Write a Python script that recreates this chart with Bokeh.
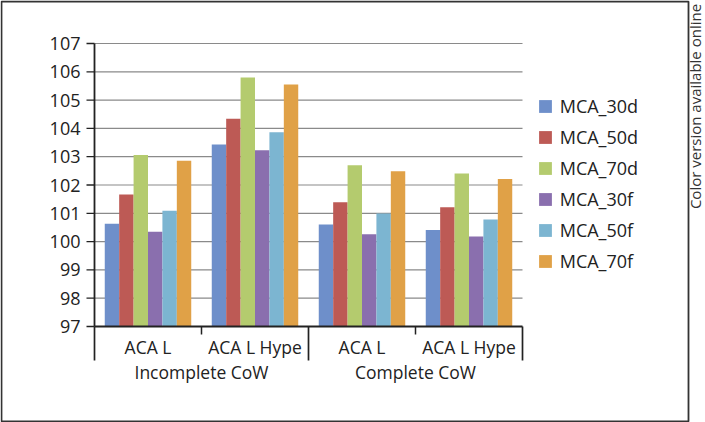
import numpy as np
from math import pi
from bokeh.plotting import figure
from bokeh.models import (Range1d, Legend, LegendItem, Label, ColumnDataSource)
from bokeh.core.properties import value
from bokeh.embed import file_html
from bokeh.resources import INLINE

# ---- data ----
subcategories = ["ACA L", "ACA L Hype", "ACA L", "ACA L Hype"]
groups = ["Incomplete CoW", "Complete CoW"]
series_names = ["MCA_30d", "MCA_50d", "MCA_70d", "MCA_30f", "MCA_50f", "MCA_70f"]
mca_30d = [100.63, 103.43, 100.60, 100.41]
mca_50d = [101.66, 104.34, 101.39, 101.21]
mca_70d = [103.06, 105.80, 102.70, 102.41]
mca_30f = [100.35, 103.23, 100.26, 100.18]
mca_50f = [101.09, 103.86, 100.99, 100.78]
mca_70f = [102.86, 105.55, 102.49, 102.21]
y_ticks = [97, 98, 99, 100, 101, 102, 103, 104, 105, 106, 107]

series_values = [mca_30d, mca_50d, mca_70d, mca_30f, mca_50f, mca_70f]
colors = ["#6e8fca", "#bd5a55", "#b4cb6e", "#8a6fae", "#7cb5d1", "#e0a147"]

FONT = "Open Sans"
TXT = "#222222"
AX = "#222222"

# ---- layout (pixels) ----
W, H = 705, 422
X_ORIGIN = 94.0      # pixel of x = 0 (left end of category axis)
X_UNIT = 107.0       # pixels per category
Y_BASE = 326.0       # pixel of y = 97 (axis minimum)
Y_UNIT = 28.3        # pixels per value unit
y_min, y_max = y_ticks[0], y_ticks[-1]
n_cat = len(subcategories)


def dx(px):
    return (px - X_ORIGIN) / X_UNIT


def dy(py):
    return y_min + (Y_BASE - py) / Y_UNIT


p = figure(width=W, height=H, output_backend="svg", toolbar_location=None,
           x_range=Range1d(dx(0), dx(W)), y_range=Range1d(dy(H), dy(0)),
           x_axis_location=None, y_axis_location=None,
           min_border=0, min_border_left=0, min_border_right=0,
           min_border_top=0, min_border_bottom=0)
p.outline_line_color = None
p.grid.visible = False

# outer box
p.quad(left=[dx(1)], right=[dx(688)], top=[dy(1)], bottom=[dy(421)],
       fill_color=None, line_color="#333333", line_width=1.8)

# horizontal gridlines
grid_vals = [t for t in y_ticks if t != y_min]
p.segment(x0=[0] * len(grid_vals), x1=[n_cat] * len(grid_vals),
          y0=grid_vals, y1=grid_vals, line_color="#8a8a8a", line_width=1.2)

# bars
centers = np.arange(n_cat) + 0.5
bar_w = 0.1347
items = []
for i, (name, vals, col) in enumerate(zip(series_names, series_values, colors)):
    src = ColumnDataSource(dict(x=centers + (i - 2.5) * bar_w, top=vals))
    r = p.vbar(x="x", top="top", bottom=y_min, width=bar_w, source=src,
               fill_color=col, line_color=None)
    items.append(LegendItem(label=name, renderers=[r]))

# y axis: line, ticks, labels
p.segment(x0=[0], x1=[0], y0=[y_min], y1=[y_max], line_color=AX, line_width=1.8)
tick_len = 8 / X_UNIT
p.segment(x0=[-tick_len] * len(y_ticks), x1=[0] * len(y_ticks), y0=y_ticks,
          y1=y_ticks, line_color=AX, line_width=1.3)
p.text(x=[dx(80)] * len(y_ticks), y=y_ticks, text=[str(t) for t in y_ticks],
       text_align="right", text_baseline="middle", text_font=value(FONT),
       text_font_size="18px", text_color=TXT)

# x axis: line, boundary ticks, labels
p.segment(x0=[0], x1=[n_cat], y0=[y_min], y1=[y_min], line_color=AX, line_width=1.8)
bounds = list(range(n_cat + 1))
short_b = [b for b in bounds if b % 2 == 1]
long_b = [b for b in bounds if b % 2 == 0]
p.segment(x0=short_b, x1=short_b, y0=[y_min] * len(short_b),
          y1=[dy(Y_BASE + 8)] * len(short_b), line_color=AX, line_width=1.5)
p.segment(x0=long_b, x1=long_b, y0=[y_min] * len(long_b),
          y1=[dy(Y_BASE + 34)] * len(long_b), line_color=AX, line_width=1.7)
p.text(x=list(centers), y=[dy(Y_BASE + 20.5)] * n_cat, text=subcategories,
       text_align="center", text_baseline="middle", text_font=value(FONT),
       text_font_size="17.5px", text_color=TXT)
group_centers = [1, 3]
p.text(x=group_centers, y=[dy(Y_BASE + 45.5)] * len(groups), text=groups,
       text_align="center", text_baseline="middle", text_font=value(FONT),
       text_font_size="17.5px", text_color=TXT)

# legend
legend = Legend(items=items, location=(536.7, 149), orientation="vertical",
                glyph_width=16, glyph_height=16, label_height=25, spacing=6,
                label_standoff=7, padding=0, margin=0,
                border_line_color=None, background_fill_alpha=0,
                label_text_font=FONT, label_text_font_size="18px",
                label_text_color=TXT)
p.add_layout(legend, "center")

note = Label(x=dx(694), y=dy(106), text="Color version available online",
             angle=pi / 2, text_align="center", text_baseline="middle",
             text_font=FONT, text_font_size="15px", text_color="#333333")
p.add_layout(note)

open("out.html", "w").write(file_html(p, INLINE))
